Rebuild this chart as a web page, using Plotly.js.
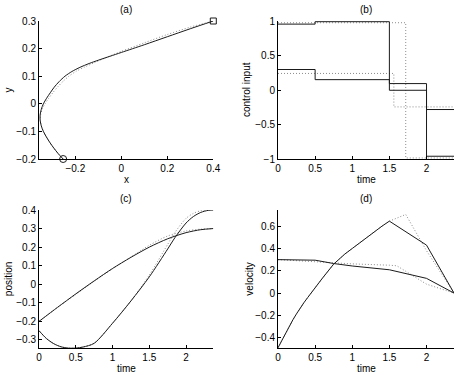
<!DOCTYPE html>
<html>
<head>
<meta charset="utf-8">
<script src="https://cdn.plot.ly/plotly-3.0.1.min.js"></script>
<style>
  html, body { margin: 0; padding: 0; background: #fff; }
  #plot { width: 457px; height: 375px; }
</style>
</head>
<body>
<div id="plot"></div>
<script>
// (a) path in the plane
let pathX = [-0.253, -0.275, -0.294, -0.311, -0.326, -0.339, -0.348, -0.353, -0.353, -0.348, -0.339, -0.325, -0.309, -0.292, -0.271, -0.245, -0.215, -0.18, -0.14, -0.1, -0.05, 0, 0.1, 0.2, 0.3, 0.4];
let pathY = [-0.2, -0.18, -0.16, -0.14, -0.12, -0.1, -0.08, -0.06, -0.04, -0.02, 0, 0.02, 0.04, 0.06, 0.08, 0.1, 0.117, 0.132, 0.146, 0.158, 0.172, 0.186, 0.214, 0.243, 0.272, 0.3];
let pathRefX = [-0.253, -0.275, -0.294, -0.311, -0.326, -0.339, -0.348, -0.352, -0.351, -0.344, -0.332, -0.316, -0.298, -0.278, -0.255, -0.228, -0.196, -0.16, -0.12, -0.07, -0.03, 0, 0.1, 0.2, 0.3, 0.4];
let pathRefY = [-0.2, -0.18, -0.16, -0.14, -0.12, -0.1, -0.08, -0.06, -0.04, -0.02, 0, 0.02, 0.04, 0.06, 0.08, 0.1, 0.118, 0.133, 0.148, 0.166, 0.18, 0.19, 0.221, 0.251, 0.278, 0.3];
let startPt = [-0.253, -0.2];
let endPt = [0.4, 0.3];

// (b) control input (piecewise constant)
let stepT = [0, 0.5, 1.5, 2, 2.37];
let u1 = [0.955, 0.99, 0.093, -0.96, -0.96];
let u2 = [0.297, 0.15, -0.004, -0.283, -0.283];
let refT1 = [0, 1.72, 2.37];
let refU1 = [0.975, -0.985, -0.985];
let refT2 = [0, 1.56, 2.37];
let refU2 = [0.24, -0.245, -0.245];

// (c) position
let posT = [0, 0.1, 0.2, 0.3, 0.4, 0.5, 0.6, 0.75, 1, 1.25, 1.5, 1.75, 1.85, 2, 2.1, 2.2, 2.3, 2.37];
let posX = [-0.25, -0.292, -0.32, -0.337, -0.344, -0.344, -0.338, -0.318, -0.21, -0.09, 0.04, 0.19, 0.252, 0.33, 0.365, 0.387, 0.398, 0.4];
let posXRef = [-0.25, -0.292, -0.32, -0.337, -0.344, -0.344, -0.338, -0.318, -0.21, -0.09, 0.05, 0.215, 0.28, 0.355, 0.382, 0.396, 0.4, 0.4];
let posT2 = [0, 0.25, 0.5, 0.75, 1, 1.25, 1.5, 1.75, 2, 2.2, 2.37];
let posY = [-0.2, -0.125, -0.052, 0.018, 0.085, 0.145, 0.2, 0.245, 0.278, 0.294, 0.3];
let posYRef = [-0.2, -0.125, -0.055, 0.016, 0.083, 0.147, 0.21, 0.26, 0.287, 0.297, 0.3];

// (d) velocity
let velT = [0, 0.05, 0.1, 0.15, 0.2, 0.25, 0.3, 0.35, 0.4, 0.45, 0.5, 0.6, 0.75, 0.9, 1, 1.1, 1.25, 1.4, 1.5, 1.75, 2, 2.37];
let velX = [-0.49, -0.425, -0.36, -0.3, -0.24, -0.185, -0.13, -0.085, -0.04, 0.005, 0.05, 0.135, 0.26, 0.35, 0.4, 0.45, 0.53, 0.6, 0.645, 0.535, 0.43, 0];
let velRefT = [0, 0.05, 0.1, 0.15, 0.2, 0.25, 0.3, 0.35, 0.4, 0.45, 0.5, 0.6, 0.75, 0.9, 1, 1.1, 1.25, 1.4, 1.5, 1.72, 2, 2.2, 2.37];
let velXRef = [-0.49, -0.425, -0.36, -0.3, -0.24, -0.185, -0.13, -0.085, -0.04, 0.005, 0.05, 0.135, 0.26, 0.35, 0.4, 0.45, 0.53, 0.6, 0.645, 0.705, 0.38, 0.17, 0];
let velT2 = [0, 0.5, 0.75, 1, 1.5, 2, 2.37];
let velY = [0.3, 0.295, 0.265, 0.243, 0.209, 0.132, 0];
let velT2Ref = [0, 0.5, 1, 1.5, 1.6, 2, 2.37];
let velYRef = [0.3, 0.28, 0.262, 0.25, 0.245, 0.08, 0];

const FONT = 'Liberation Sans, Arial, sans-serif';
const solid = {color: '#1a1a1a', width: 1};
const dotted = {color: '#8c8c8c', width: 1, dash: '1px,2px'};

function tr(x, y, line, ax, shape) {
    let l = Object.assign({shape: shape || 'linear'}, line);
    if (shape === 'spline') l.smoothing = 0.8;
    return {x: x, y: y, mode: 'lines', line: l, xaxis: ax[0], yaxis: ax[1], hoverinfo: 'skip'};
}

let A = ['x', 'y'], B = ['x2', 'y2'], C = ['x3', 'y3'], D = ['x4', 'y4'];

let data = [
    tr(pathRefX, pathRefY, dotted, A, 'spline'),
    tr(pathX, pathY, solid, A, 'spline'),
    {x: [startPt[0]], y: [startPt[1]], mode: 'markers', xaxis: 'x', yaxis: 'y', cliponaxis: false,
     marker: {symbol: 'circle-open', size: 7, color: '#1a1a1a', line: {width: 1}}},
    {x: [endPt[0]], y: [endPt[1]], mode: 'markers', xaxis: 'x', yaxis: 'y', cliponaxis: false,
     marker: {symbol: 'square-open', size: 6, color: '#1a1a1a', line: {width: 1}}},

    tr(refT1, refU1, dotted, B, 'hv'),
    tr(refT2, refU2, dotted, B, 'hv'),
    tr(stepT, u1, solid, B, 'hv'),
    tr(stepT, u2, solid, B, 'hv'),

    tr(posT, posXRef, dotted, C, 'spline'),
    tr(posT2, posYRef, dotted, C, 'spline'),
    tr(posT, posX, solid, C, 'spline'),
    tr(posT2, posY, solid, C, 'spline'),

    tr(velRefT, velXRef, dotted, D),
    tr(velT2Ref, velYRef, dotted, D),
    tr(velT, velX, solid, D),
    tr(velT2, velY, solid, D)
];

function axis(domain, range, dtick, anchor) {
    return {
        domain: domain, range: range, dtick: dtick, anchor: anchor,
        showgrid: false, zeroline: false, showline: true, linecolor: '#000', linewidth: 1,
        ticks: 'inside', ticklen: 3, tickcolor: '#000', mirror: false,
        tickfont: {family: FONT, size: 10, color: '#000'}
    };
}

let colLeft = [39 / 457, 213.3 / 457], colRight = [278 / 457, 454 / 457];
let rowTop = [1 - 159 / 375, 1 - 21 / 375], rowBottom = [1 - 348.3 / 375, 1 - 210 / 375];

function label(text, x, y, angle) {
    return {text: text, x: x, y: y, xref: 'paper', yref: 'paper', showarrow: false,
            xanchor: 'center', yanchor: 'middle', textangle: angle || 0,
            font: {family: FONT, size: 10, color: '#000'}};
}

let midL = (colLeft[0] + colLeft[1]) / 2, midR = (colRight[0] + colRight[1]) / 2;
let midT = (rowTop[0] + rowTop[1]) / 2, midB = (rowBottom[0] + rowBottom[1]) / 2;

let layout = {
    width: 457, height: 375,
    margin: {l: 0, r: 0, t: 0, b: 0},
    paper_bgcolor: '#fff', plot_bgcolor: '#fff',
    showlegend: false,
    xaxis: axis(colLeft, [-0.358, 0.4], 0.2, 'y'),
    yaxis: axis(rowTop, [-0.2, 0.3], 0.1, 'x'),
    xaxis2: axis(colRight, [0, 2.37], 0.5, 'y2'),
    yaxis2: axis(rowTop, [-1, 1], 0.5, 'x2'),
    xaxis3: axis(colLeft, [0, 2.37], 0.5, 'y3'),
    yaxis3: axis(rowBottom, [-0.345, 0.4], 0.1, 'x3'),
    xaxis4: axis(colRight, [0, 2.37], 0.5, 'y4'),
    yaxis4: axis(rowBottom, [-0.495, 0.745], 0.2, 'x4'),
    annotations: [
        label('(a)', midL, 1 - 10 / 375),
        label('(b)', midR, 1 - 10 / 375),
        label('(c)', midL, 1 - 199 / 375),
        label('(d)', midR, 1 - 199 / 375),
        label('x', midL, 1 - 179 / 375),
        label('time', midR, 1 - 179 / 375),
        label('time', midL, 1 - 368 / 375),
        label('time', midR, 1 - 368 / 375),
        label('y', 7.5 / 457, midT, -90),
        label('control input', 246 / 457, midT, -90),
        label('position', 8 / 457, midB, -90),
        label('velocity', 249.5 / 457, midB, -90)
    ]
};

Plotly.newPlot('plot', data, layout, {staticPlot: true});
</script>
</body>
</html>
